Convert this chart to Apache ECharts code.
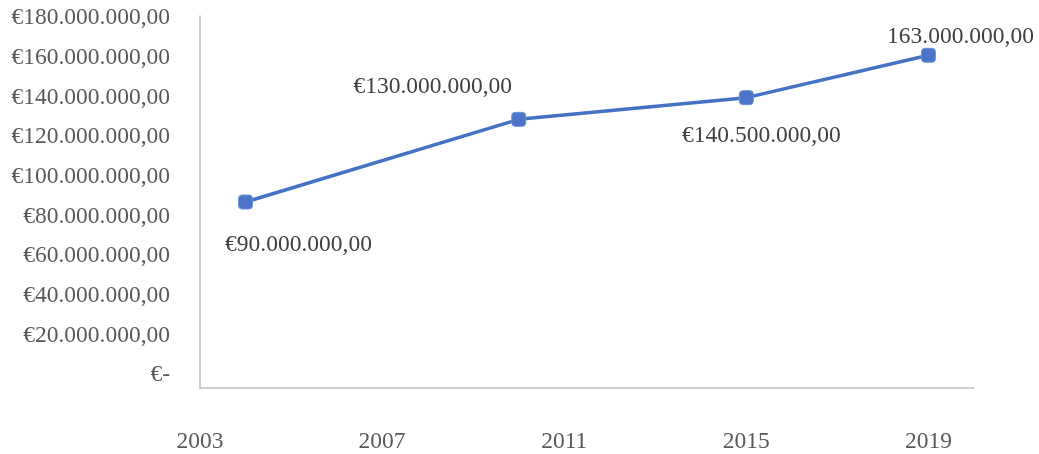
<!DOCTYPE html>
<html>
<head>
<meta charset="utf-8">
<script src="https://cdn.jsdelivr.net/npm/echarts@6/dist/echarts.min.js"></script>
<style>
html,body{margin:0;padding:0;background:#fff;}
#chart{width:1039px;height:454px;}
</style>
</head>
<body>
<div id="chart"></div>
<script>
// ---- data ----
const years = [2004, 2010, 2015, 2019];
const values = [90000000, 130000000, 140500000, 161000000];
const dataLabels = ['€90.000.000,00', '€130.000.000,00', '€140.500.000,00', '163.000.000,00'];
const xTicks = [2003, 2007, 2011, 2015, 2019];
const yTicks = [0, 20000000, 40000000, 60000000, 80000000, 100000000, 120000000, 140000000, 160000000, 180000000];

// ---- layout (kept separate from data) ----
const labelOffsets = [[53, 43], [-86, -33], [15, 38], [32, -18]];

function fmtEuro(v) {
  if (v === 0) return '€-';
  return '€' + Math.round(v).toString().replace(/\B(?=(\d{3})+(?!\d))/g, '.') + ',00';
}

const font = '"Liberation Serif", "Times New Roman", serif';
const chart = echarts.init(document.getElementById('chart'), null, {renderer: 'canvas'});

const seriesData = years.map((y, i) => ({
  value: [y, values[i]],
  label: {
    formatter: dataLabels[i],
    offset: labelOffsets[i]
  }
}));

chart.setOption({
  animation: false,
  backgroundColor: '#ffffff',
  grid: {left: 200, right: 65, top: 16, bottom: 66, containLabel: false},
  xAxis: {
    type: 'value',
    min: 2003,
    max: 2020,
    axisLine: {show: true, lineStyle: {color: '#BFBFBF', width: 1.5}},
    axisTick: {show: false},
    splitLine: {show: false},
    axisLabel: {
      customValues: xTicks,
      margin: 42,
      color: '#595959',
      fontFamily: font,
      fontSize: 23.5,
      formatter: v => String(v)
    }
  },
  yAxis: [
    {
      type: 'value',
      min: 0,
      max: 180000000,
      interval: 20000000,
      axisLine: {show: true, lineStyle: {color: '#BFBFBF', width: 1.5}},
      axisTick: {show: false},
      splitLine: {show: false},
      axisLabel: {show: false}
    },
    {
      type: 'value',
      position: 'left',
      min: -6555000,
      max: 181008000,
      axisLine: {show: false},
      axisTick: {show: false},
      splitLine: {show: false},
      axisLabel: {
        customValues: yTicks,
        margin: 30,
        color: '#595959',
        fontFamily: font,
        fontSize: 23.5,
        formatter: fmtEuro
      }
    }
  ],
  series: [{
    type: 'line',
    yAxisIndex: 0,
    data: seriesData,
    symbol: 'roundRect',
    symbolSize: 14,
    lineStyle: {color: '#4472C4', width: 3.5},
    itemStyle: {color: '#4a75c9', borderColor: '#6f92d8', borderWidth: 1},
    label: {
      show: true,
      position: 'inside',
      color: '#404040',
      fontFamily: font,
      fontSize: 23.5
    }
  }]
});
</script>
</body>
</html>
